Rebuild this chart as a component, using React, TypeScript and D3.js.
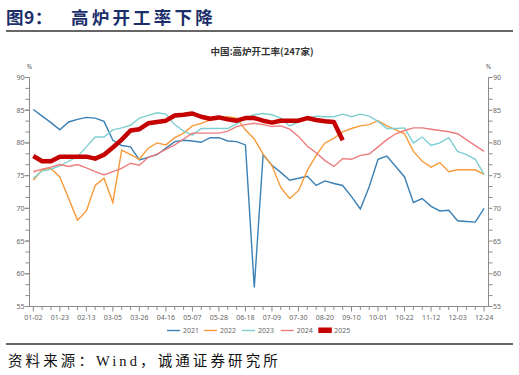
import React from "react";
import * as d3 from "d3";

const xTickLabels = ["01-02","01-23","02-13","03-05","03-26","04-16","05-07","05-28","06-18","07-09","07-30","08-20","09-10","10-01","10-22","11-12","12-03","12-24"];
const yTicks = [55, 60, 65, 70, 75, 80, 85, 90];

const y2021 = [85.1,84.1,83.1,82.0,83.2,83.6,83.9,83.8,83.3,80.4,79.6,79.4,77.4,77.8,78.2,79.2,80.2,80.4,80.3,80.1,80.8,80.8,80.3,80.2,79.7,57.9,78.2,76.6,75.5,74.3,74.6,74.9,73.5,74.2,73.8,73.5,71.8,69.9,73.3,77.5,78.0,76.4,74.8,70.9,71.5,70.3,69.6,69.7,68.1,68.0,67.9,70.0];
const y2022 = [74.3,75.9,76.1,74.8,71.5,68.2,69.6,73.5,74.6,70.9,78.9,78.2,77.5,79.2,80.0,79.7,80.8,81.5,82.6,83.0,83.5,83.8,84.0,83.8,82.0,80.6,78.3,76.5,73.2,71.5,72.7,75.8,78.1,80.0,80.7,81.7,82.2,82.6,82.8,83.4,82.6,82.0,81.4,78.7,77.2,76.3,77.0,75.6,75.9,75.9,75.9,75.2];
const y2023 = [74.6,75.7,76.0,76.5,77.2,77.9,79.4,80.9,80.9,82.0,82.3,82.7,83.8,84.2,84.6,84.4,82.8,81.8,81.2,82.2,82.2,82.2,82.2,82.9,83.8,84.3,84.5,84.3,83.8,82.6,83.2,83.8,84.1,84.0,84.0,84.4,84.0,84.4,84.1,83.3,82.2,82.2,82.3,80.0,80.9,79.6,80.0,80.8,78.7,78.2,77.5,75.2];
const y2024 = [75.6,76.0,76.3,76.7,76.4,76.7,76.2,75.6,75.1,75.6,76.1,76.9,76.6,77.8,78.3,79.0,79.7,80.6,81.5,81.5,81.5,81.5,81.8,82.5,82.8,83.0,82.8,82.5,82.6,82.1,81.0,79.5,78.5,77.3,76.4,77.6,77.5,78.1,78.3,79.4,80.5,81.4,81.9,82.3,82.3,82.1,81.9,81.7,81.4,80.5,79.6,78.7];
const y2025 = [78.0,77.2,77.2,77.9,77.9,77.9,77.9,77.6,78.2,79.3,80.5,81.9,82.1,83.0,83.2,83.4,84.2,84.3,84.5,84.0,83.7,83.9,83.6,83.4,83.8,83.8,83.4,83.1,83.4,83.4,83.4,83.8,83.5,83.3,83.2,80.4];

const seriesNames = ["2021", "2022", "2023", "2024", "2025"];
const seriesColors = ["#3a80b4", "#f89a3a", "#7fcfd1", "#ee7d7d", "#c40000"];
const seriesData = [y2021, y2022, y2023, y2024, y2025];

export default function App() {
  const W = 519, H = 375;
  const left = 29.5, right = 488.5, top = 77.5, bottom = 306.5;
  const x = d3.scaleLinear().domain([0, 51]).range([33.3, 484.1]);
  const y = d3.scaleLinear().domain([55, 90]).range([bottom, top]);
  const line = d3.line<number>().x((_, i) => x(i)).y((d) => y(d));

  const minorY: number[] = [];
  for (let v = 55; v <= 90.001; v += 5 / 3) minorY.push(v);
  const weeks = d3.range(52);
  const axisColor = "#8a8a8a";
  const labelColor = "#666";
  const fs = "Noto Sans, DejaVu Sans, sans-serif";

  const legendX = [167, 204, 242, 280.7, 318.3];

  return (
    <svg width={W} height={H} style={{ position: "absolute", left: 0, top: 0, background: "#fff" }}>
      <text x={6} y={24} fontFamily="Noto Sans CJK SC" fontWeight="bold" fontSize={17.5} fill="#1b2f6b" letterSpacing={0.5}>图9：</text>
      <text x={71} y={24} fontFamily="Noto Sans CJK SC" fontWeight="bold" fontSize={17.5} fill="#1b2f6b" letterSpacing={3.2}>高炉开工率下降</text>
      <line x1={6} x2={513} y1={31} y2={31} stroke="#333" strokeWidth={1.3} />

      <text x={262} y={55} textAnchor="middle" fontFamily="Noto Sans CJK SC" fontWeight="bold" fontSize={9.5} fill="#333">中国:高炉开工率(247家)</text>
      <text x={left} y={69} textAnchor="middle" fontFamily={fs} fontSize={6.5} fill={labelColor}>%</text>
      <text x={right} y={69} textAnchor="middle" fontFamily={fs} fontSize={6.5} fill={labelColor}>%</text>

      {/* axes */}
      <line x1={left} x2={left} y1={top} y2={bottom} stroke={axisColor} strokeWidth={1} />
      <line x1={right} x2={right} y1={top} y2={bottom} stroke={axisColor} strokeWidth={1} />
      <line x1={left} x2={right} y1={bottom} y2={bottom} stroke={axisColor} strokeWidth={1} />
      {minorY.map((v, i) => (
        <g key={"my" + i}>
          <line x1={left - 4} x2={left} y1={y(v)} y2={y(v)} stroke={axisColor} strokeWidth={1} />
          <line x1={right} x2={right + 4} y1={y(v)} y2={y(v)} stroke={axisColor} strokeWidth={1} />
        </g>
      ))}
      {yTicks.map((v) => (
        <g key={"yt" + v}>
          <line x1={left - 5} x2={left} y1={y(v)} y2={y(v)} stroke={axisColor} strokeWidth={1} />
          <text x={left - 5} y={y(v) + 2.5} textAnchor="end" fontFamily={fs} fontSize={7} fill={labelColor}>{v}</text>
          <text x={right + 4.5} y={y(v) + 2.5} textAnchor="start" fontFamily={fs} fontSize={7} fill={labelColor}>{v}</text>
        </g>
      ))}
      {weeks.map((w) => (
        <line key={"xt" + w} x1={x(w)} x2={x(w)} y1={bottom} y2={bottom + (w % 3 === 0 ? 5 : 3.5)} stroke={axisColor} strokeWidth={1} />
      ))}
      {xTickLabels.map((lab, k) => (
        <text key={"xl" + k} x={x(k * 3)} y={320} textAnchor="middle" fontFamily={fs} fontSize={7} fill={labelColor}>{lab}</text>
      ))}

      {/* series */}
      {seriesData.map((data, si) => (
        <path key={"s" + si} d={line(data) || ""} fill="none" stroke={seriesColors[si]}
          strokeWidth={si === 4 ? 4.5 : 1.4} strokeLinejoin={si === 4 ? "round" : "miter"} strokeLinecap="butt" />
      ))}

      {/* legend */}
      {seriesNames.map((n, i) => (
        <g key={"lg" + i}>
          {i === 4 ? (
            <rect x={legendX[i]} y={327.5} width={13.5} height={5.5} fill={seriesColors[i]} />
          ) : (
            <line x1={legendX[i]} x2={legendX[i] + 13} y1={330.5} y2={330.5} stroke={seriesColors[i]} strokeWidth={1.4} />
          )}
          <text x={legendX[i] + 16} y={333} fontFamily={fs} fontSize={7} fill={labelColor}>{n}</text>
        </g>
      ))}

      <line x1={6} x2={513} y1={344} y2={344} stroke="#333" strokeWidth={1.3} />
      <text x={8} y={366} fontFamily="Liberation Serif, Noto Sans CJK SC, serif" fontSize={14.5} fill="#111" letterSpacing={3.1}>资料来源：Wind，诚通证券研究所</text>
    </svg>
  );
}
